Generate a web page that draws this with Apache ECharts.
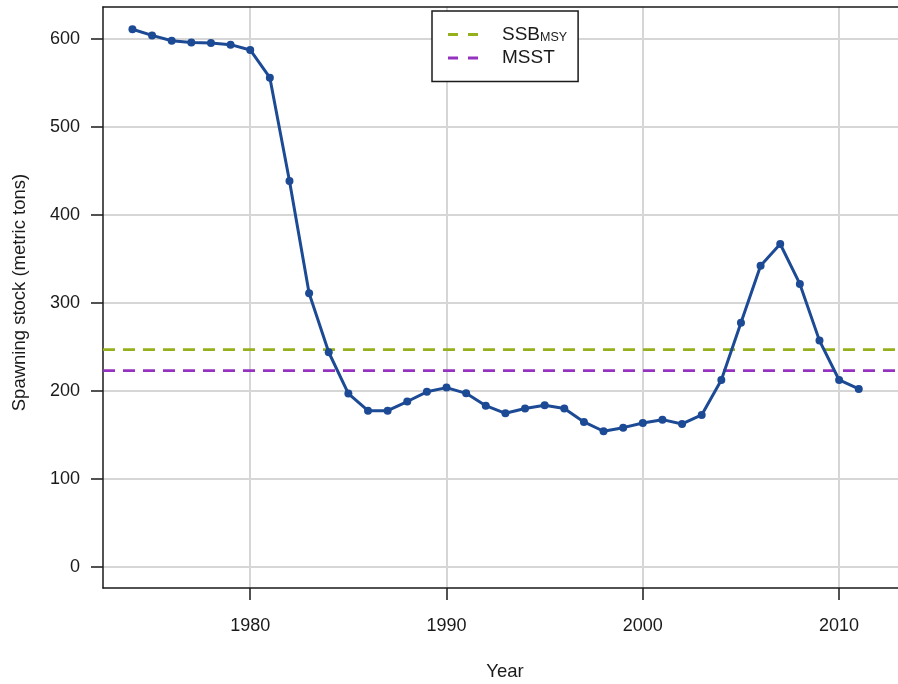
<!DOCTYPE html>
<html>
<head>
<meta charset="utf-8">
<script src="https://cdn.jsdelivr.net/npm/echarts@6/dist/echarts.min.js"></script>
<style>
html,body{margin:0;padding:0;background:#fff;}
#chart{width:898px;height:684px;}
</style>
</head>
<body>
<div id="chart"></div>
<script>
// ---- data ----
var years = [1974,1975,1976,1977,1978,1979,1980,1981,1982,1983,1984,1985,1986,1987,1988,1989,1990,1991,1992,1993,1994,1995,1996,1997,1998,1999,2000,2001,2002,2003,2004,2005,2006,2007,2008,2009,2010,2011];
var ssb = [611,604,598,596,595.5,593.5,587.5,556,438.6,311,244,197,177.6,177.6,188,199,203.8,197.3,183.3,174.6,180,183.7,180,164.8,154.2,158.3,163.6,167.4,162.5,172.7,212.5,277.6,342.4,367,321.6,257.2,212.5,202.3];
var ssbMsy = 247;
var msst = 223;
var xTicks = [1980,1990,2000,2010];
var yTicks = [0,100,200,300,400,500,600];

var X_MIN = 1972.5, X_MAX = 2013.0;
var Y_MIN = -23.9, Y_MAX = 636.3;

var FONT = "'Liberation Sans', Arial, Helvetica, sans-serif";
var INK = '#1a1a1a';
var BLUE = '#1c4a94';
var GREEN = '#94b01a';
var PURPLE = '#9632c0';
var GRID = '#d6d6d6';

var chart = echarts.init(document.getElementById('chart'), null, {renderer:'canvas'});

var gridLines = xTicks.map(function(v){return {xAxis:v};})
  .concat(yTicks.map(function(v){return {yAxis:v};}));

var option = {
  backgroundColor:'#fff',
  animation:false,
  textStyle:{fontFamily:FONT},
  grid:{left:103, right:0, top:7, bottom:96, show:false},
  legend:{
    data:['SSB_MSY','MSST'],
    orient:'vertical',
    left:432, top:11,
    padding:[14,11,14,16],
    itemGap:4,
    itemWidth:30, itemHeight:3,
    backgroundColor:'#fff',
    borderColor:INK, borderWidth:1.5, borderRadius:0,
    icon:'path://M0,0h10v3h-10z M20,0h10v3h-10z',
    selectedMode:false,
    formatter:function(name){
      return name === 'SSB_MSY' ? '{a|SSB}{s|MSY}' : '{a|MSST}';
    },
    textStyle:{
      color:INK, fontFamily:FONT,
      rich:{
        a:{fontSize:19, lineHeight:20, color:INK, fontFamily:FONT, padding:[0,0,0,19]},
        s:{fontSize:12.5, lineHeight:9, color:INK, fontFamily:FONT, verticalAlign:'bottom'}
      }
    }
  },
  xAxis:[{
    type:'value', min:X_MIN, max:X_MAX,
    axisLine:{show:true, onZero:false, lineStyle:{color:INK, width:1.5}},
    axisTick:{show:true, customValues:xTicks, length:12, lineStyle:{color:INK, width:1.5}},
    axisLabel:{customValues:xTicks, fontSize:18, color:INK, fontFamily:FONT, margin:29,
      formatter:function(v){return String(v);}},
    splitLine:{show:false}
  },{
    type:'value', min:X_MIN, max:X_MAX, position:'top',
    axisLine:{show:true, onZero:false, lineStyle:{color:INK, width:1.5}},
    axisTick:{show:false}, axisLabel:{show:false}, splitLine:{show:false}
  }],
  yAxis:{
    type:'value', min:Y_MIN, max:Y_MAX,
    axisLine:{show:true, onZero:false, lineStyle:{color:INK, width:1.5}},
    axisTick:{show:true, customValues:yTicks, length:12, lineStyle:{color:INK, width:1.5}},
    axisLabel:{customValues:yTicks, fontSize:18, color:INK, fontFamily:FONT, margin:23,
      formatter:function(v){return String(v);}},
    splitLine:{show:false}
  },
  graphic:[
    {type:'text', x:20, y:292.5, rotation:Math.PI/2,
      style:{text:'Spawning stock (metric tons)', fontSize:18.5, fontFamily:FONT, fill:INK, align:'center', verticalAlign:'middle'}},
    {type:'text', x:505, y:672,
      style:{text:'Year', fontSize:18.5, fontFamily:FONT, fill:INK, align:'center', verticalAlign:'middle'}}
  ],
  series:[
    {
      name:'grid', type:'line', data:[], z:0, silent:true,
      markLine:{silent:true, symbol:['none','none'], z:0, animation:false,
        label:{show:false},
        lineStyle:{color:GRID, width:2, type:'solid'},
        emphasis:{disabled:true},
        data:gridLines}
    },
    {
      name:'SSB_MSY', type:'line', z:2, symbol:'none', silent:true,
      data:[[X_MIN, ssbMsy],[X_MAX, ssbMsy]],
      itemStyle:{color:GREEN},
      lineStyle:{color:GREEN, width:2.8, type:[12,8]}
    },
    {
      name:'MSST', type:'line', z:2, symbol:'none', silent:true,
      data:[[X_MIN, msst],[X_MAX, msst]],
      itemStyle:{color:PURPLE},
      lineStyle:{color:PURPLE, width:2.8, type:[12,8]}
    },
    {
      name:'SSB', type:'line', z:3,
      data:years.map(function(y,i){return [y, ssb[i]];}),
      symbol:'circle', symbolSize:8, showSymbol:true,
      itemStyle:{color:BLUE},
      lineStyle:{color:BLUE, width:3}
    }
  ]
};
chart.setOption(option);
</script>
</body>
</html>
